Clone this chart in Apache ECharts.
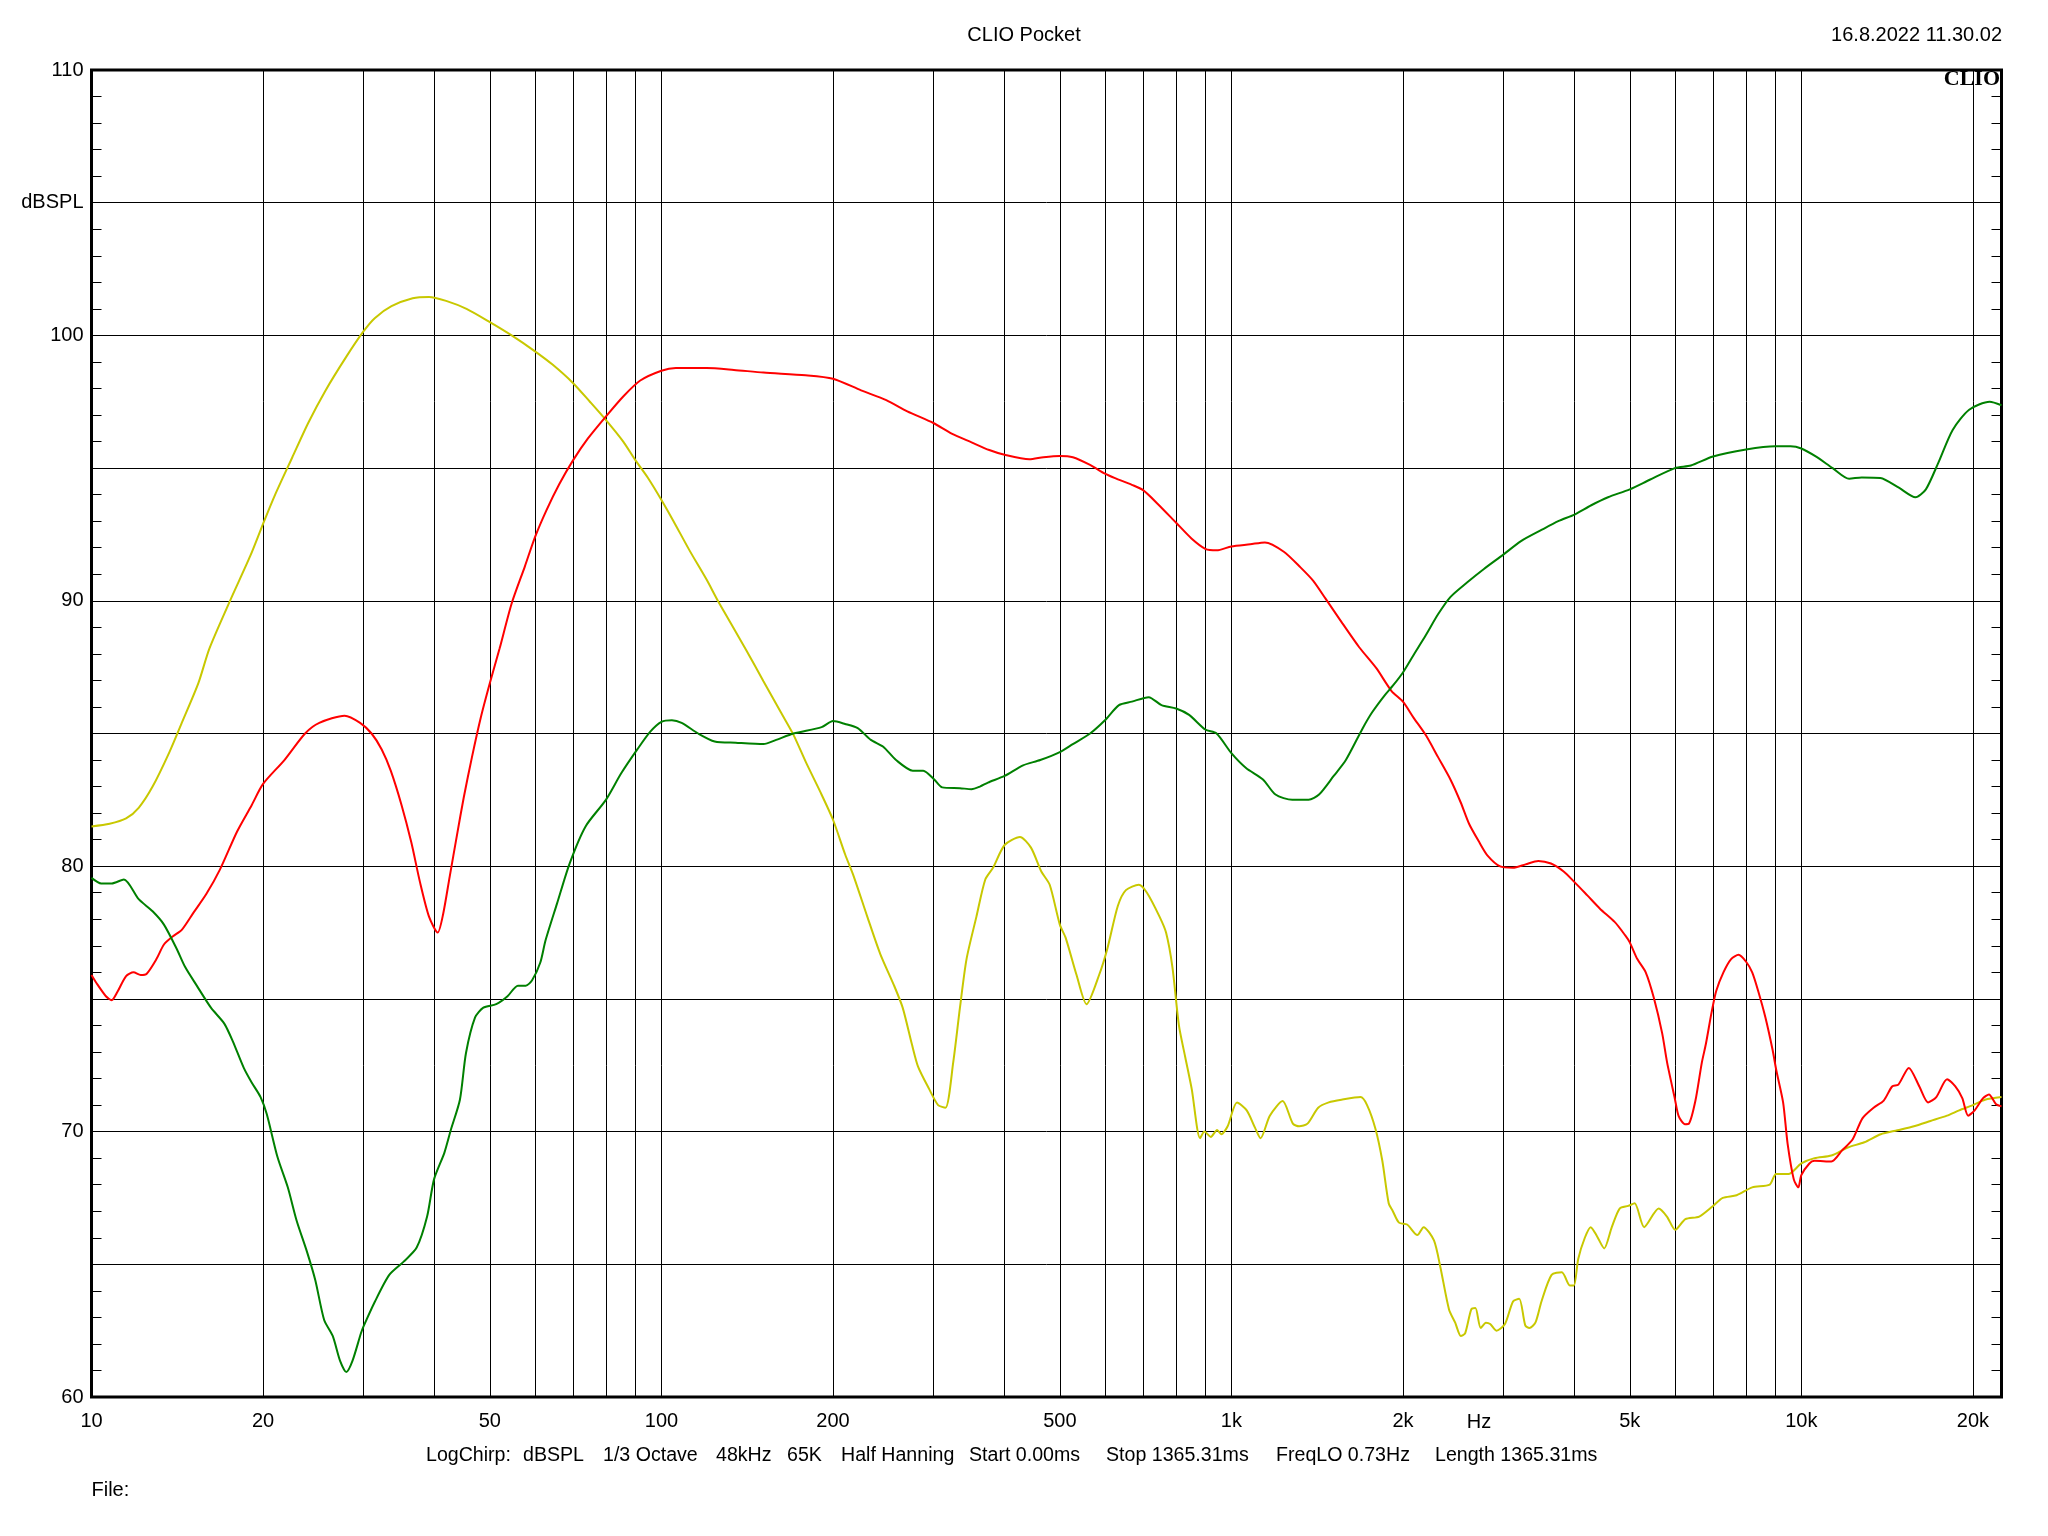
<!DOCTYPE html>
<html><head><meta charset="utf-8">
<script src="https://cdn.jsdelivr.net/npm/echarts@6/dist/echarts.min.js"></script>
<style>html,body{margin:0;padding:0;background:#fff}#c{width:2048px;height:1536px}</style>
</head><body><div id="c"></div>
<script>
// ---- data (frequency in Hz, level in dBSPL) ----
const yellowFreq = [10,10.76,11.5,12.1,12.8,13.7,14.4,15.4,16.1,17.5,19,20,21,22.5,24,25.7,28,30,31.4,33.6,36.6,39.1,41.9,45.5,50,54.6,60,64.4,70,74.9,80,85.7,90,94.9,100,105,112,120,126,140.8,151,162,170.5,179.4,190,200,210,217.6,229.7,242,256,265,275,282,295,305.8,315,325,334,343,357,370,382,400,425.6,445,464,480,500,512,535,557,586,606,632,653,688,711,748,768,788,809,830,852,881,897,920,944,960,985,1023,1064,1100,1125,1168,1230,1282,1315,1360,1420,1482,1560,1685,1730,1790,1840,1888,1920,1968,2034,2120,2174,2267,2326,2409,2470,2527,2571,2636,2680,2738,2796,2845,2917,3020,3120,3199,3278,3333,3415,3500,3646,3800,3925,3990,4060,4170,4270,4380,4510,4650,4800,4970,5100,5300,5620,5810,6010,6260,6620,7000,7280,7700,8200,8800,9030,9490,10000,10550,11290,12060,12900,13780,14740,15760,16850,18010,18920,20000,21000,22450];
const yellowDb = [81.5,81.6,81.8,82.2,83.0,84.3,85.4,86.9,88.2,90.0,91.7,92.9,94.0,95.4,96.7,97.9,99.2,100.15,100.65,101.1,101.4,101.45,101.3,101.0,100.5,100.0,99.4,98.9,98.2,97.5,96.8,96.0,95.3,94.6,93.8,93.0,91.9,90.8,89.95,88.15,86.97,85.8,84.95,83.9,82.8,81.75,80.45,79.6,78.1,76.7,75.5,74.67,73.3,72.45,71.6,71.0,70.9,72.6,74.67,76.5,78.1,79.5,79.95,80.8,81.1,80.7,79.8,79.3,77.8,77.3,75.9,74.8,75.9,76.9,78.5,79.1,79.3,79.0,78.1,77.5,76.2,74.0,72.8,71.6,69.75,70.0,69.8,70.06,69.9,70.2,71.1,70.8,70.15,69.75,70.6,71.15,70.3,70.2,70.3,70.9,71.1,71.2,71.3,71.0,70.1,68.9,67.3,67.0,66.57,66.5,66.1,66.4,65.9,64.9,63.3,62.8,62.3,62.4,63.3,63.35,62.6,62.8,62.75,62.5,62.75,63.6,63.7,62.7,62.6,62.8,63.6,64.6,64.7,64.2,64.2,65.2,66.0,66.4,66.06,65.6,66.4,67.1,67.2,67.3,66.4,67.1,66.8,66.3,66.7,66.8,67.2,67.5,67.6,67.9,68.0,68.4,68.4,68.8,69.0,69.1,69.4,69.6,69.9,70.05,70.2,70.4,70.6,70.8,71.0,71.2,71.3];

const redFreq = [10,10.2,10.6,10.85,11.1,11.5,11.85,12.2,12.5,13.0,13.4,13.9,14.4,15.1,15.9,16.8,18.0,19.1,20,21.8,23.7,25.1,27.8,29.6,31.0,32.3,33.5,35.0,36.4,37.7,39.1,40.5,41.4,42.5,43.8,45.0,46.5,48.2,50,52,54.6,57.6,60,62.8,66.2,70,74.2,80,85.7,91.8,100,106,120,134,151,179,200,224,248,270,300,323,350,376,400,442,468,500,527,565,600,625,669,700,742,800,851,900,942,1000,1079,1145,1236,1322,1391,1463,1565,1676,1796,1910,2000,2087,2193,2306,2424,2526,2612,2723,2815,2962,3118,3282,3455,3637,3828,4000,4212,4433,4704,4906,5000,5155,5333,5512,5700,5815,5998,6095,6250,6350,6520,6690,6800,6960,7090,7300,7530,7760,8000,8200,8400,8650,8900,9040,9290,9460,9700,9880,10000,10330,10550,11290,11800,12300,12800,13390,13950,14430,14800,15440,16110,16690,17250,18020,18630,19160,19620,20140,20840,21340,21960,22450];
const redDb = [75.9,75.6,75.1,74.95,75.26,75.86,76.0,75.9,75.95,76.5,77.05,77.36,77.6,78.25,78.95,79.87,81.3,82.3,83.1,84.0,85.0,85.4,85.67,85.4,85.0,84.4,83.6,82.3,80.9,79.4,78.1,77.5,78.2,79.6,81.2,82.6,84.1,85.6,86.9,88.2,89.9,91.3,92.4,93.4,94.4,95.3,96.1,96.96,97.7,98.3,98.67,98.77,98.77,98.7,98.6,98.5,98.37,97.93,97.56,97.14,96.7,96.3,95.97,95.68,95.5,95.33,95.41,95.46,95.41,95.12,94.79,94.62,94.37,94.17,93.66,92.94,92.35,91.96,91.9,92.05,92.13,92.2,91.85,91.26,90.76,90.08,89.16,88.25,87.46,86.6,86.2,85.6,84.94,84.1,83.26,82.4,81.6,80.9,80.4,79.99,79.94,80.07,80.2,80.1,79.8,79.4,78.9,78.4,77.9,77.4,77.13,76.5,76.0,75.03,73.7,72.6,71.25,70.57,70.28,70.3,71.17,72.6,73.3,74.5,75.3,76.0,76.5,76.66,76.4,76.0,75.3,74.3,73.1,72.3,71.1,69.55,68.2,67.9,68.36,68.8,68.9,68.87,69.3,69.7,70.5,70.9,71.17,71.7,71.77,72.4,71.7,71.1,71.3,71.97,71.7,71.26,70.6,70.8,71.26,71.4,71.03,70.95];

const greenFreq = [10,10.4,10.85,11.4,12.1,12.8,13.4,14.1,14.6,15.3,16.2,17.1,17.7,18.5,19.1,19.8,20.3,21.2,22.1,22.9,23.9,24.7,25.6,26.5,27.3,28.0,28.7,29.7,30.0,31.4,33.3,35.3,37.2,38.8,39.9,41.6,42.7,44.3,45.4,47.1,48.7,51.3,53.7,56.0,57.8,59.3,61.3,62.6,65.6,69.0,73.6,79.9,85.0,90.7,95.6,100,104.3,108.5,116,124,135,151,159,170.5,191,200,210,221,233,245,258,276,288,301,311,334,350,362,374,400,431,462,500,527,565,600,635,669,716,754,800,843,900,942,1000,1061,1136,1195,1279,1366,1425,1512,1588,1700,1766,1859,1920,2000,2088,2193,2306,2424,2594,2774,3000,3222,3500,3745,4000,4280,4580,5000,5420,6000,6400,7000,8000,9000,9570,10000,10600,11350,12130,12760,13760,14830,15860,16540,17390,18430,19700,21400,22450];
const greenDb = [79.56,79.35,79.35,79.5,78.76,78.3,77.8,76.9,76.2,75.5,74.67,74.07,73.4,72.4,71.85,71.3,70.66,69.04,67.9,66.65,65.45,64.4,62.9,62.3,61.36,60.94,61.36,62.4,62.65,63.58,64.6,65.1,65.63,66.8,68.2,69.2,70.06,71.2,72.96,74.3,74.67,74.8,75.1,75.5,75.5,75.7,76.37,77.2,78.6,80.1,81.5,82.5,83.5,84.4,85.07,85.44,85.5,85.4,85.0,84.7,84.65,84.6,84.76,85.0,85.24,85.47,85.36,85.2,84.76,84.5,84.0,83.6,83.6,83.27,82.97,82.94,82.9,83.0,83.15,83.4,83.8,84.0,84.3,84.6,85.0,85.5,86.07,86.2,86.37,86.07,85.94,85.7,85.15,85.0,84.26,83.7,83.27,82.7,82.5,82.5,82.7,83.4,84.0,85.2,85.8,86.45,86.8,87.3,87.96,88.7,89.5,90.15,90.7,91.2,91.74,92.25,92.67,93.0,93.25,93.6,93.9,94.2,94.56,95.0,95.1,95.44,95.7,95.82,95.82,95.74,95.44,95.0,94.6,94.65,94.63,94.26,93.9,94.2,95.2,96.44,97.2,97.5,97.37];

// ---- axis ticks / labels ----
const gridFreqs = [20,30,40,50,60,70,80,90,100,200,300,400,500,600,700,800,900,1000,2000,3000,4000,5000,6000,7000,8000,9000,10000,20000];
const xLabelFreqs = [10,20,50,100,200,500,1000,2000,5000,10000,20000];
const xLabelTexts = ['10','20','50','100','200','500','1k','2k','5k','10k','20k'];
const yLabelValues = [60,70,80,90,100,105,110];
const yLabelTexts = ['60','70','80','90','100','dBSPL','110'];
const footerTexts = ['LogChirp:','dBSPL','1/3 Octave','48kHz','65K','Half Hanning','Start 0.00ms','Stop 1365.31ms','FreqLO 0.73Hz','Length 1365.31ms'];
const footerX = [426,523,603,716,787,841,969,1106,1276,1435];

const FONT = '"Liberation Sans", Arial, sans-serif';
const zip = (f, d) => f.map((v, i) => [v, d[i]]);
const xLabelMap = {}; xLabelFreqs.forEach((f, i) => xLabelMap[f] = xLabelTexts[i]);
const yLabelMap = {}; yLabelValues.forEach((v, i) => yLabelMap[v] = yLabelTexts[i]);

const chart = echarts.init(document.getElementById('c'), null, {renderer: 'canvas'});
const yAxisBase = {
  type: 'value', min: 60, max: 110, interval: 5,
  axisLine: {show: false},
  axisTick: {show: true, inside: true, length: 10, lineStyle: {color: '#000', width: 1}},
  minorTick: {show: true, splitNumber: 5, length: 10, lineStyle: {color: '#000', width: 1}}
};
const graphics = [
  {type: 'text', x: 1024, y: 35, style: {text: 'CLIO Pocket', fontSize: 20, fontFamily: FONT, fill: '#000', align: 'center', verticalAlign: 'middle'}},
  {type: 'text', x: 2002, y: 35, style: {text: '16.8.2022 11.30.02', fontSize: 20, fontFamily: FONT, fill: '#000', align: 'right', verticalAlign: 'middle'}},
  {type: 'text', x: 2000, y: 79, z: 10, style: {text: 'CLIO', fontSize: 22, fontWeight: 'bold', fontFamily: '"Liberation Serif", "Times New Roman", serif', fill: '#000', align: 'right', verticalAlign: 'middle'}},
  {type: 'text', x: 1479, y: 1422, style: {text: 'Hz', fontSize: 20, fontFamily: FONT, fill: '#000', align: 'center', verticalAlign: 'middle'}},
  {type: 'text', x: 91.5, y: 1490, style: {text: 'File:', fontSize: 20, fontFamily: FONT, fill: '#000', align: 'left', verticalAlign: 'middle'}}
];
footerTexts.forEach((t, i) => graphics.push({type: 'text', x: footerX[i], y: 1456, style: {text: t, fontSize: 19.6, fontFamily: FONT, fill: '#000', align: 'left', verticalAlign: 'middle'}}));

const lineSeries = (name, color, data) => ({
  name, type: 'line', data, showSymbol: false, symbol: 'none', smooth: 0.25, z: 5,
  lineStyle: {color, width: 2}, itemStyle: {color}, animation: false
});

chart.setOption({
  backgroundColor: '#fff',
  animation: false,
  grid: {left: 91.5, top: 70, width: 1910, height: 1327, show: true, borderColor: '#000', borderWidth: 3, backgroundColor: 'transparent', containLabel: false},
  xAxis: {
    type: 'log', logBase: 10, min: 10, max: 22450,
    axisLine: {show: false},
    axisTick: {show: false, customValues: gridFreqs},
    minorTick: {show: false},
    axisLabel: {customValues: xLabelFreqs, formatter: v => xLabelMap[Math.round(v)] || '', fontSize: 20, fontFamily: FONT, color: '#000', margin: 14, showMinLabel: true, showMaxLabel: true},
    splitLine: {show: true, lineStyle: {color: '#000', width: 1}}
  },
  yAxis: [
    Object.assign({}, yAxisBase, {
      position: 'left',
      axisLabel: {formatter: v => yLabelMap[v] || '', fontSize: 20, fontFamily: FONT, color: '#000', margin: 8},
      splitLine: {show: true, lineStyle: {color: '#000', width: 1}}
    }),
    Object.assign({}, yAxisBase, {
      position: 'right',
      axisLabel: {show: false},
      splitLine: {show: false}
    })
  ],
  graphic: graphics,
  series: [
    lineSeries('yellow', '#c8c800', zip(yellowFreq, yellowDb)),
    lineSeries('red', '#ff0000', zip(redFreq, redDb)),
    lineSeries('green', '#008000', zip(greenFreq, greenDb))
  ]
});
</script></body></html>
